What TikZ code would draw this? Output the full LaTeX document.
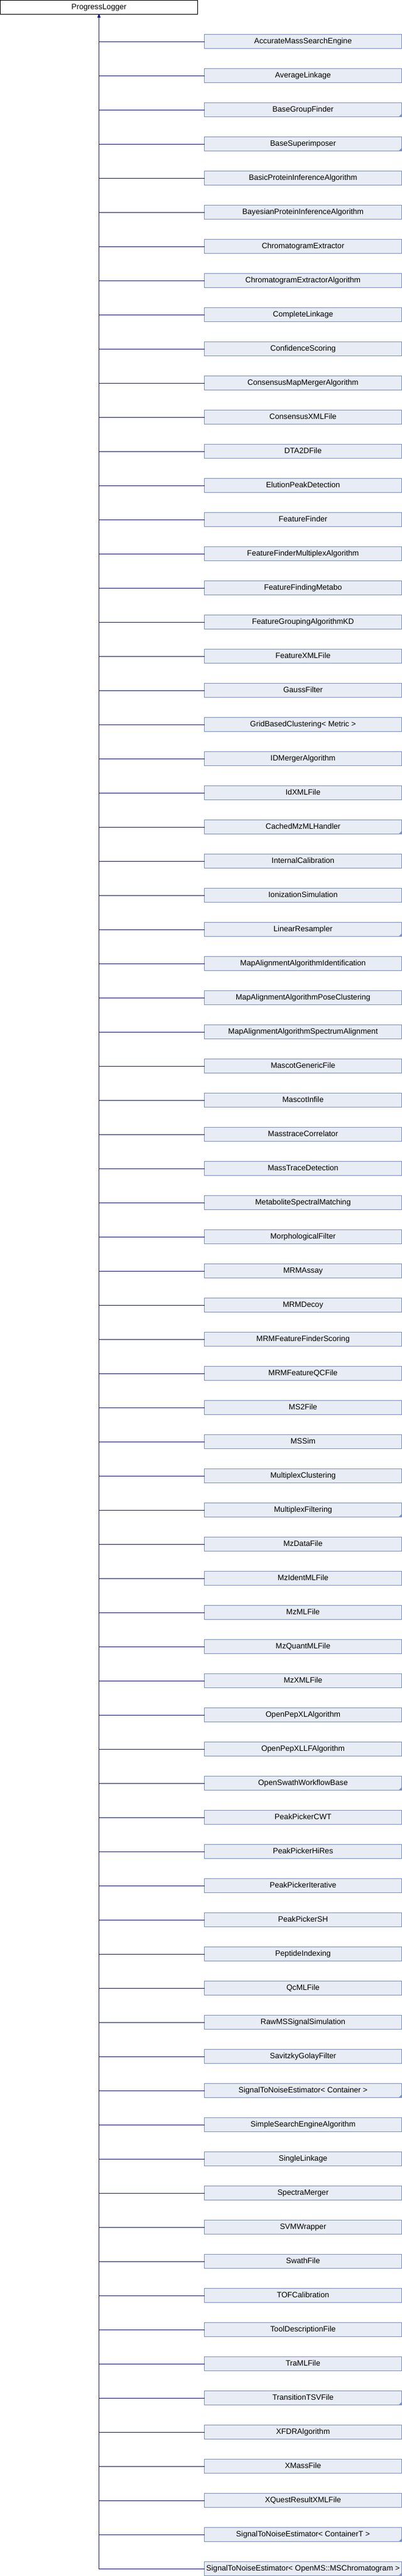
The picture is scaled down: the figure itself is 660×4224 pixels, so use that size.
\documentclass[tikz,border=0pt]{standalone}
\usepackage{fontspec}
\setmainfont{Liberation Sans}
\usetikzlibrary{arrows.meta}
\definecolor{edgec}{RGB}{25,25,140}
\definecolor{boxfill}{RGB}{232,236,244}
\definecolor{boxline}{RGB}{124,143,200}
\begin{document}
\begin{tikzpicture}[x=1pt,y=-1pt,
  font=\fontsize{12.7}{14}\selectfont,
  basebox/.style={line width=1pt,minimum width=324pt,minimum height=22.7pt,
    inner sep=0pt,outer sep=0pt,text height=9pt,text depth=2.5pt},
  rootbox/.style={basebox,draw=black,fill=white},
  childbox/.style={basebox,draw=boxline,fill=boxfill},
  edge/.style={draw=edgec,line width=1pt,-{Latex[length=5pt,width=4.5pt]}},
  foldmark/.style={fill=boxline}]
\path[use as bounding box] (0,0) rectangle (660,4224);
\node[rootbox] (root) at (162.5,11.85) {ProgressLogger};
\foreach \nm/\fd [count=\i] in {
  AccurateMassSearchEngine/0,
  AverageLinkage/0,
  BaseGroupFinder/1,
  BaseSuperimposer/1,
  BasicProteinInferenceAlgorithm/0,
  BayesianProteinInferenceAlgorithm/0,
  ChromatogramExtractor/0,
  ChromatogramExtractorAlgorithm/0,
  CompleteLinkage/0,
  ConfidenceScoring/0,
  ConsensusMapMergerAlgorithm/0,
  ConsensusXMLFile/0,
  DTA2DFile/0,
  ElutionPeakDetection/0,
  FeatureFinder/0,
  FeatureFinderMultiplexAlgorithm/0,
  FeatureFindingMetabo/0,
  FeatureGroupingAlgorithmKD/0,
  FeatureXMLFile/0,
  GaussFilter/0,
  GridBasedClustering< Metric >/0,
  IDMergerAlgorithm/0,
  IdXMLFile/0,
  CachedMzMLHandler/1,
  InternalCalibration/0,
  IonizationSimulation/0,
  LinearResampler/1,
  MapAlignmentAlgorithmIdentification/0,
  MapAlignmentAlgorithmPoseClustering/0,
  MapAlignmentAlgorithmSpectrumAlignment/0,
  MascotGenericFile/0,
  MascotInfile/0,
  MasstraceCorrelator/0,
  MassTraceDetection/0,
  MetaboliteSpectralMatching/0,
  MorphologicalFilter/0,
  MRMAssay/0,
  MRMDecoy/0,
  MRMFeatureFinderScoring/0,
  MRMFeatureQCFile/0,
  MS2File/0,
  MSSim/0,
  MultiplexClustering/0,
  MultiplexFiltering/1,
  MzDataFile/0,
  MzIdentMLFile/0,
  MzMLFile/0,
  MzQuantMLFile/0,
  MzXMLFile/0,
  OpenPepXLAlgorithm/0,
  OpenPepXLLFAlgorithm/0,
  OpenSwathWorkflowBase/1,
  PeakPickerCWT/0,
  PeakPickerHiRes/0,
  PeakPickerIterative/0,
  PeakPickerSH/0,
  PeptideIndexing/0,
  QcMLFile/0,
  RawMSSignalSimulation/0,
  SavitzkyGolayFilter/0,
  SignalToNoiseEstimator< Container >/1,
  SimpleSearchEngineAlgorithm/0,
  SingleLinkage/0,
  SpectraMerger/0,
  SVMWrapper/0,
  SwathFile/0,
  TOFCalibration/0,
  ToolDescriptionFile/0,
  TraMLFile/0,
  TransitionTSVFile/1,
  XFDRAlgorithm/0,
  XMassFile/0,
  XQuestResultXMLFile/0,
  SignalToNoiseEstimator< ContainerT >/1,
  SignalToNoiseEstimator< OpenMS::MSChromatogram >/1}{
  \node[childbox] (c\i) at (497.5,{68.2+56*(\i-1)}) {\nm};
  \ifnum\fd=1
    \fill[foldmark] ([xshift=-5pt]c\i.south east) -- (c\i.south east)
      -- ([yshift=5pt]c\i.south east) -- cycle;
  \fi
}
\foreach \i in {1,...,75}{
  \draw[edge] (c\i.west) -| (root.south);
}
\end{tikzpicture}
\end{document}
